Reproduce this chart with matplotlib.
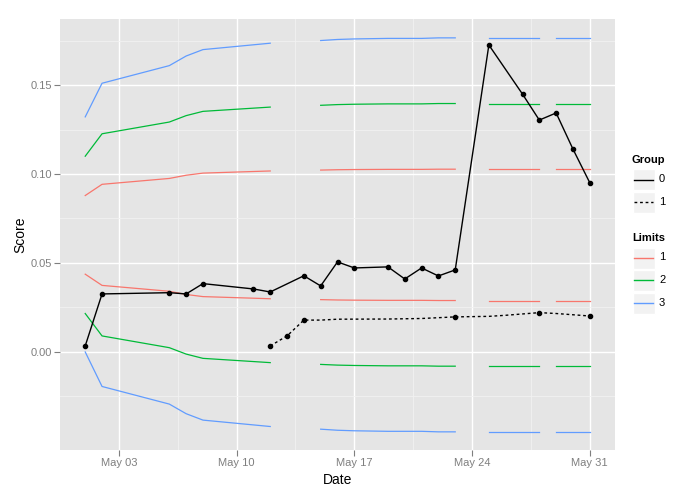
import numpy as np
import pandas as pd
import matplotlib
matplotlib.use("Agg")
import matplotlib.pyplot as plt
import matplotlib.dates as mdates
from matplotlib.lines import Line2D
from matplotlib.patches import Rectangle

plt.rcParams["font.family"] = ["Liberation Sans", "DejaVu Sans"]

# -----------------------------
# data (day of May)
# -----------------------------
YEAR = 2013

g0_days = [1, 2, 6, 7, 8, 11, 12, 14, 15, 16, 17, 19, 20, 21, 22, 23, 25, 27, 28, 29, 30, 31]
g0_score = [0.0034, 0.0326, 0.0333, 0.0326, 0.0384, 0.0354, 0.0337, 0.0428, 0.0371, 0.0506,
            0.0472, 0.0478, 0.0410, 0.0472, 0.0427, 0.0461, 0.1725, 0.1449, 0.1303, 0.1343,
            0.1140, 0.0951]

g1_days = [12, 13, 14, 15, 16, 19, 21, 23, 25, 26, 28, 29, 31]
g1_score = [0.0034, 0.0090, 0.0179, 0.0179, 0.0184, 0.0185, 0.0188, 0.0197, 0.0200, 0.0206,
            0.0221, 0.0216, 0.0202]
g1_marked = [True, True, True, False, False, False, False, True, False, False, True, False, True]

lim_days = [1, 2, 6, 7, 8, 11, 12, 15, 16, 17, 19, 20, 21, 22, 23, 25, 27, 28, 29, 30, 31]
lim_seg = [1, 1, 1, 1, 1, 1, 1, 2, 2, 2, 2, 2, 2, 2, 2, 3, 3, 3, 4, 4, 4]

lim1_hi = [0.0879, 0.0942, 0.0975, 0.0993, 0.1005, 0.1014, 0.1017, 0.1022, 0.1024, 0.1025,
           0.1026, 0.1026, 0.1026, 0.1027, 0.1027, 0.1027, 0.1027, 0.1027, 0.1027, 0.1027, 0.1027]
lim1_lo = [0.0437, 0.0374, 0.0341, 0.0323, 0.0311, 0.0302, 0.0299, 0.0294, 0.0292, 0.0291,
           0.0290, 0.0290, 0.0290, 0.0289, 0.0289, 0.0289, 0.0289, 0.0289, 0.0289, 0.0289, 0.0289]
lim2_hi = [0.1100, 0.1226, 0.1292, 0.1328, 0.1352, 0.1370, 0.1376, 0.1386, 0.1390, 0.1392,
           0.1394, 0.1394, 0.1394, 0.1396, 0.1396, 0.1396, 0.1396, 0.1396, 0.1396, 0.1396, 0.1396]
lim2_lo = [0.0216, 0.0090, 0.0024, -0.0012, -0.0036, -0.0054, -0.0060, -0.0070, -0.0074, -0.0076,
           -0.0078, -0.0078, -0.0078, -0.0080, -0.0080, -0.0080, -0.0080, -0.0080, -0.0080, -0.0080, -0.0080]
lim3_hi = [0.1321, 0.1510, 0.1609, 0.1663, 0.1699, 0.1726, 0.1735, 0.1750, 0.1756, 0.1759,
           0.1762, 0.1762, 0.1762, 0.1765, 0.1765, 0.1765, 0.1765, 0.1765, 0.1765, 0.1765, 0.1765]
lim3_lo = [0.0000, -0.0194, -0.0293, -0.0347, -0.0383, -0.0410, -0.0419, -0.0434, -0.0440, -0.0443,
           -0.0446, -0.0446, -0.0446, -0.0449, -0.0449, -0.0449, -0.0449, -0.0449, -0.0449, -0.0449, -0.0449]

limit_colors = {"1": "#F8766D", "2": "#00BA38", "3": "#619CFF"}


def to_dates(days):
    return pd.to_datetime([f"{YEAR}-05-{d:02d}" for d in days])


# -----------------------------
# figure
# -----------------------------
W, H = 700, 495
fig = plt.figure(figsize=(W / 100, H / 100), dpi=100)
ax = fig.add_axes([60 / W, 45 / H, 555 / W, 431 / H])
ax.set_facecolor("#E5E5E5")
for s in ax.spines.values():
    s.set_visible(False)

# limits, drawn segment by segment
lim = pd.DataFrame({"date": to_dates(lim_days), "seg": lim_seg,
                    "1hi": lim1_hi, "1lo": lim1_lo, "2hi": lim2_hi,
                    "2lo": lim2_lo, "3hi": lim3_hi, "3lo": lim3_lo})
for seg, part in lim.groupby("seg"):
    for k, col in limit_colors.items():
        ax.plot(part["date"], part[k + "hi"], color=col, lw=0.9, zorder=3)
        ax.plot(part["date"], part[k + "lo"], color=col, lw=0.9, zorder=3)

# groups
d0 = to_dates(g0_days)
ax.plot(d0, g0_score, color="black", lw=1.0, zorder=4)
ax.plot(d0, g0_score, "o", color="black", ms=3.0, zorder=5)

d1 = to_dates(g1_days)
ax.plot(d1, g1_score, color="black", lw=1.0, dashes=(2, 2), zorder=4)
mk = np.array(g1_marked)
ax.plot(d1[mk], np.array(g1_score)[mk], "o", color="black", ms=3.0, zorder=5)

# axes
ax.set_xlim(pd.Timestamp(f"{YEAR}-04-29 12:00"), pd.Timestamp(f"{YEAR}-06-01 12:00"))
ax.set_ylim(-0.0551, 0.1871)
ax.set_xticks(to_dates([3, 10, 17, 24, 31]))
ax.set_xticks(pd.to_datetime([f"{YEAR}-05-{d:02d} 12:00" for d in [6, 13, 20, 27]]), minor=True)
ax.xaxis.set_major_formatter(mdates.DateFormatter("%b %d"))
ax.set_yticks([0.0, 0.05, 0.10, 0.15])
ax.set_yticklabels(["0.00", "0.05", "0.10", "0.15"])
ax.set_yticks([-0.025, 0.025, 0.075, 0.125, 0.175], minor=True)
ax.grid(which="major", color="white", lw=1.0)
ax.grid(which="minor", color="#F2F2F2", lw=0.6)
ax.set_axisbelow(True)
ax.tick_params(which="major", color="#7F7F7F", length=4, width=0.8,
               labelcolor="#7F7F7F", labelsize=8, pad=2)
ax.tick_params(which="minor", length=0)
ax.set_xlabel("Date", fontsize=10, labelpad=3)
ax.set_ylabel("Score", fontsize=10, labelpad=2)


# -----------------------------
# legends (figure pixel coords)
# -----------------------------
def fx(x):
    return x / W


def fy(y):
    return 1 - y / H


def legend_block(title, title_y, labels, styles, top):
    fig.text(fx(632), fy(title_y), title, fontsize=8, fontweight="bold",
             va="center", ha="left")
    for i, (lab, st) in enumerate(zip(labels, styles)):
        y0 = top + i * 22.5
        fig.patches.append(Rectangle((fx(633), fy(y0 + 21)), 22 / W, 21 / H,
                                     transform=fig.transFigure, facecolor="#F2F2F2",
                                     edgecolor="white", lw=1, zorder=1))
        yc = fy(y0 + 10)
        fig.lines.append(Line2D([fx(634), fx(653)], [yc, yc], transform=fig.transFigure,
                                zorder=2, **st))
        fig.text(fx(659), yc, lab, fontsize=8, va="center", ha="left")


legend_block("Group", 160, ["0", "1"],
             [dict(color="black", lw=1.0), dict(color="black", lw=1.0, dashes=(2, 2))], 169.5)
legend_block("Limits", 238, ["1", "2", "3"],
             [dict(color=c, lw=1.0) for c in limit_colors.values()], 247.5)

fig.savefig("out.png", dpi=100)
